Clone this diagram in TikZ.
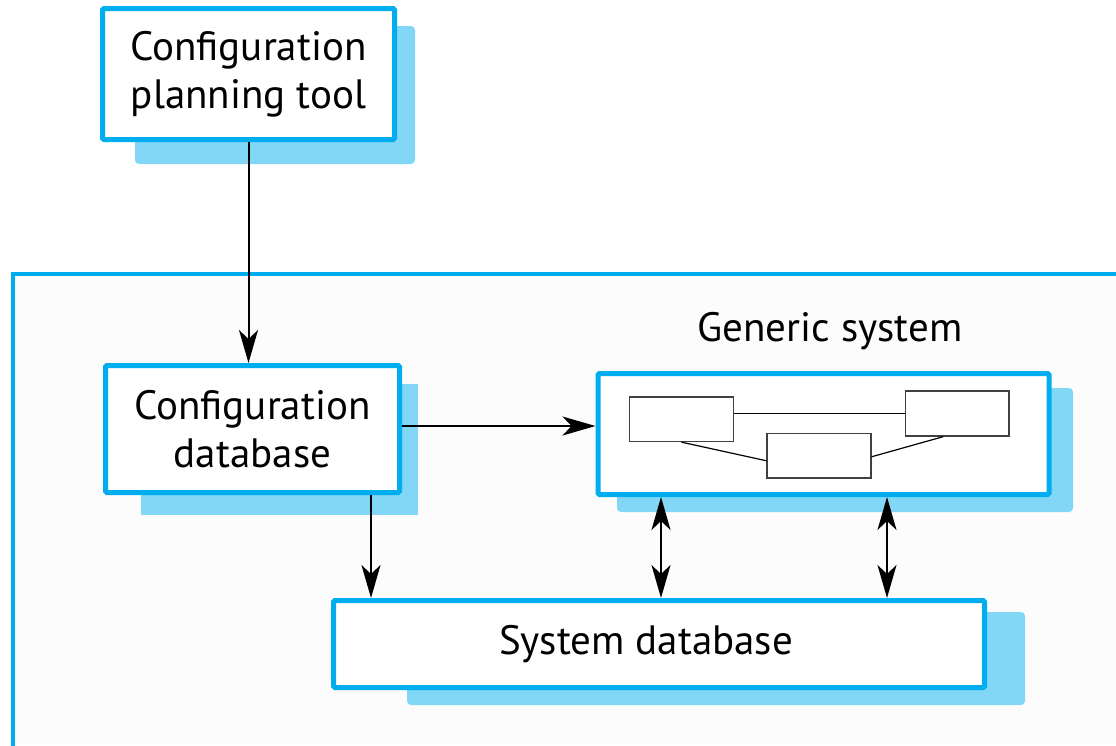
\documentclass[tikz,border=0pt]{standalone}
\usepackage{fontspec}
\setmainfont{PT Sans}
\usetikzlibrary{arrows.meta,calc}
\definecolor{cyanline}{RGB}{0,174,239}
\definecolor{shadowblue}{RGB}{130,215,247}
\definecolor{bggray}{RGB}{252,252,252}
\newcommand\diagfont{\fontsize{41}{48}\selectfont}
\begin{document}
\begin{tikzpicture}[x=1pt,y=-1pt,
  box/.style={draw=cyanline, line width=5pt, fill=white, rounded corners=1.5pt,
              align=center, inner sep=0pt, font=\diagfont},
  arr/.style={line width=2pt, -{Stealth[length=33pt,width=19pt,inset=9pt]}},
  darr/.style={line width=2pt, {Stealth[length=33pt,width=19pt,inset=9pt]}-{Stealth[length=33pt,width=19pt,inset=9pt]}},
  comp/.style={draw=black!75, line width=1.3pt, fill=white, inner sep=0pt},
  link/.style={draw=black, line width=1.2pt}]
\useasboundingbox (0,0) rectangle (1116,745);

% container
\fill[bggray] (13,274) rectangle (1116,745);
\draw[cyanline, line width=4pt] (13,747) -- (13,274) -- (1118,274);

% shadows
\fill[shadowblue, rounded corners=4pt] (135,26) rectangle (415,164);
\fill[shadowblue] (141,384) rectangle (418,515);
\fill[shadowblue, rounded corners=4pt] (617,388) rectangle (1073,512);
\fill[shadowblue, rounded corners=4pt] (407,612) rectangle (1025,705);

% boxes
\node[box, minimum width=292pt, minimum height=131pt] (plan) at (248.5,74)
  {Configuration\\planning tool};
\node[box, minimum width=294pt, minimum height=127pt] (cdb) at (252.5,429)
  {Configuration\\database};
\node[box, minimum width=451pt, minimum height=121pt] (gen) at (823.5,434) {};
\node[box, minimum width=651pt, minimum height=87pt] (sdb) at (659,644)
  {\hspace*{-26pt}System database};
\node[font=\diagfont, inner sep=0pt] (genlabel) at (830,331) {Generic system};

% components inside generic system
\node[comp, minimum width=104pt, minimum height=44.5pt] (c1) at (681.5,419.25) {};
\node[comp, minimum width=103.5pt, minimum height=45pt] (c2) at (957.25,413.5) {};
\node[comp, minimum width=104pt, minimum height=44.5pt] (c3) at (819,455.75) {};
\draw[link] (c1.east |- c2.west) -- (c2.west);
\draw[link] (c1.south) -- ([yshift=-5pt]c3.west);
\draw[link] ([yshift=-1pt]c3.east) -- ([xshift=-14pt]c2.south);

% connectors
\draw[arr] (plan.south) -- (plan.south |- cdb.north);
\draw[arr] (cdb.east |- 0,426) -- (gen.west |- 0,426);
\draw[arr] (cdb.south -| 371,0) -- (sdb.north -| 371,0);
\draw[darr] (gen.south -| 661,0) -- (sdb.north -| 661,0);
\draw[darr] (gen.south -| 887,0) -- (sdb.north -| 887,0);
\end{tikzpicture}
\end{document}
